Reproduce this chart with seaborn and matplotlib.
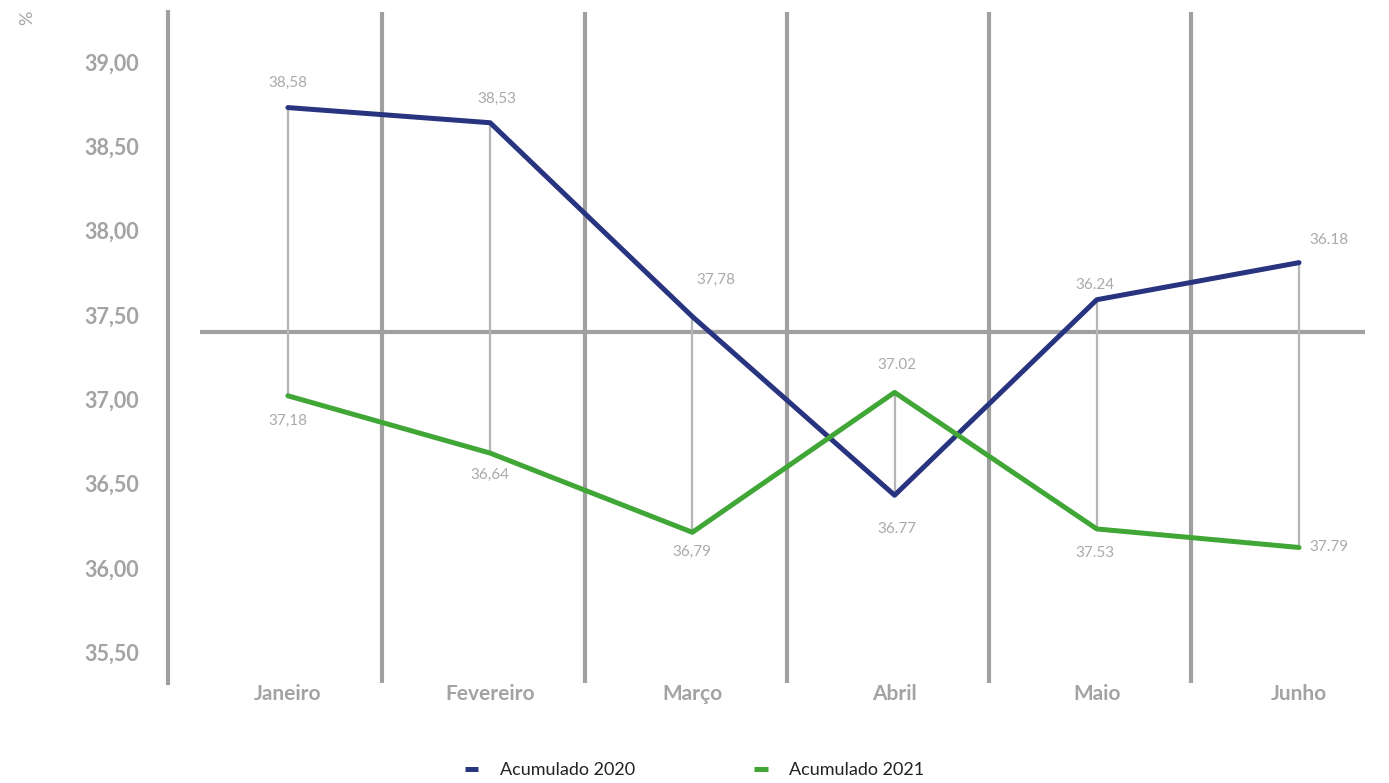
import matplotlib
matplotlib.use("Agg")
import matplotlib.pyplot as plt
import seaborn as sns
import pandas as pd

# ---- data ----
months = ["Janeiro", "Fevereiro", "Março", "Abril", "Maio", "Junho"]
series_names = ["Acumulado 2020", "Acumulado 2021"]
acum_2020 = [38.73, 38.64, 37.49, 36.43, 37.59, 37.81]
acum_2021 = [37.02, 36.68, 36.21, 37.04, 36.23, 36.12]
labels_top = ["38,58", "38,53", "37,78", "37.02", "36.24", "36.18"]
labels_bottom = ["37,18", "36,64", "36,79", "36.77", "37.53", "37.79"]
y_ticks = [35.5, 36.0, 36.5, 37.0, 37.5, 38.0, 38.5, 39.0]
cross_value = 37.40

# ---- style ----
BLUE = "#28347f"
GREEN = "#40a636"
GRID = "#a0a0a0"
TXT = "#a3a3a3"
LBL = "#aaaaaa"

sns.set_theme(style="white")
plt.rcParams['font.family'] = ['Lato', 'DejaVu Sans']

W, H = 1389, 783
fig = plt.figure(figsize=(W / 100, H / 100), dpi=100)
ax = fig.add_axes([168 / W, 1 - 683 / H, 1 - 168 / W, (683 - 12) / H])

df = pd.DataFrame({
    "x": list(range(len(months))) * 2,
    "valor": acum_2020 + acum_2021,
    "serie": [series_names[0]] * len(months) + [series_names[1]] * len(months),
})

# high-low lines
lows = [min(a, b) for a, b in zip(acum_2020, acum_2021)]
highs = [max(a, b) for a, b in zip(acum_2020, acum_2021)]
ax.vlines(range(len(months)), lows, highs, color="#b5b5b5", lw=1.6, zorder=2)

sns.lineplot(data=df, x="x", y="valor", hue="serie", palette=[BLUE, GREEN],
             linewidth=3.6, ax=ax, sort=False, zorder=4)

ax.set_xlim(-0.593, 5.445)
ax.set_ylim(35.316, 39.297)

# category boundary lines
for i in range(len(months) - 1):
    ax.axvline(i + 0.467, color=GRID, lw=3, zorder=1)
ax.hlines(cross_value, -0.435, 5.326, color=GRID, lw=3, zorder=1)

for s in ["top", "right", "bottom"]:
    ax.spines[s].set_visible(False)
ax.spines["left"].set_color(GRID)
ax.spines["left"].set_linewidth(3)

ax.set_yticks(y_ticks)
ax.set_yticklabels([f"{v:.2f}".replace(".", ",") for v in y_ticks],
                   fontsize=15.5, fontweight="bold", color=TXT)
ax.set_xticks(range(len(months)))
ax.set_xticklabels(months, fontsize=15, fontweight="bold", color=TXT)
ax.tick_params(axis="y", length=0, pad=21)
ax.tick_params(axis="x", length=0, pad=1)
ax.set_xlabel("")
ax.set_ylabel("")
ax.grid(False)

# value labels (offsets in px)
top_off = [(0, 25), (7, 24), (24, 37), (2, 27), (-2, 15), (30, 23)]
bot_off = [(0, -25), (0, -22), (0, -20), (2, -34), (-2, -24), (30, 0)]
for i in range(len(months)):
    dx, dy = top_off[i]
    ax.annotate(labels_top[i], (i, highs[i]), xytext=(dx * 0.72, dy * 0.72),
                textcoords="offset points", ha="center", va="center",
                fontsize=11, color=LBL, zorder=5)
    dx, dy = bot_off[i]
    ax.annotate(labels_bottom[i], (i, lows[i]), xytext=(dx * 0.72, dy * 0.72),
                textcoords="offset points", ha="center", va="center",
                fontsize=11, color=LBL, zorder=5)

fig.text(27 / W, 1 - 18 / H, "%", rotation=90, ha="center", va="center",
         fontsize=13, color=TXT)

handles, labels = ax.get_legend_handles_labels()
ax.get_legend().remove()
leg = fig.legend(handles, labels, loc="center", bbox_to_anchor=(0.5, 1 - 770 / H),
                 ncol=2, frameon=False, handlelength=0.75, handletextpad=1.2,
                 columnspacing=6.6, fontsize=13)
for t in leg.get_texts():
    t.set_color("#222222")
for h in leg.get_lines():
    h.set_linewidth(3.6)
    h.set_solid_capstyle("butt")

fig.savefig("out.png", dpi=100)
